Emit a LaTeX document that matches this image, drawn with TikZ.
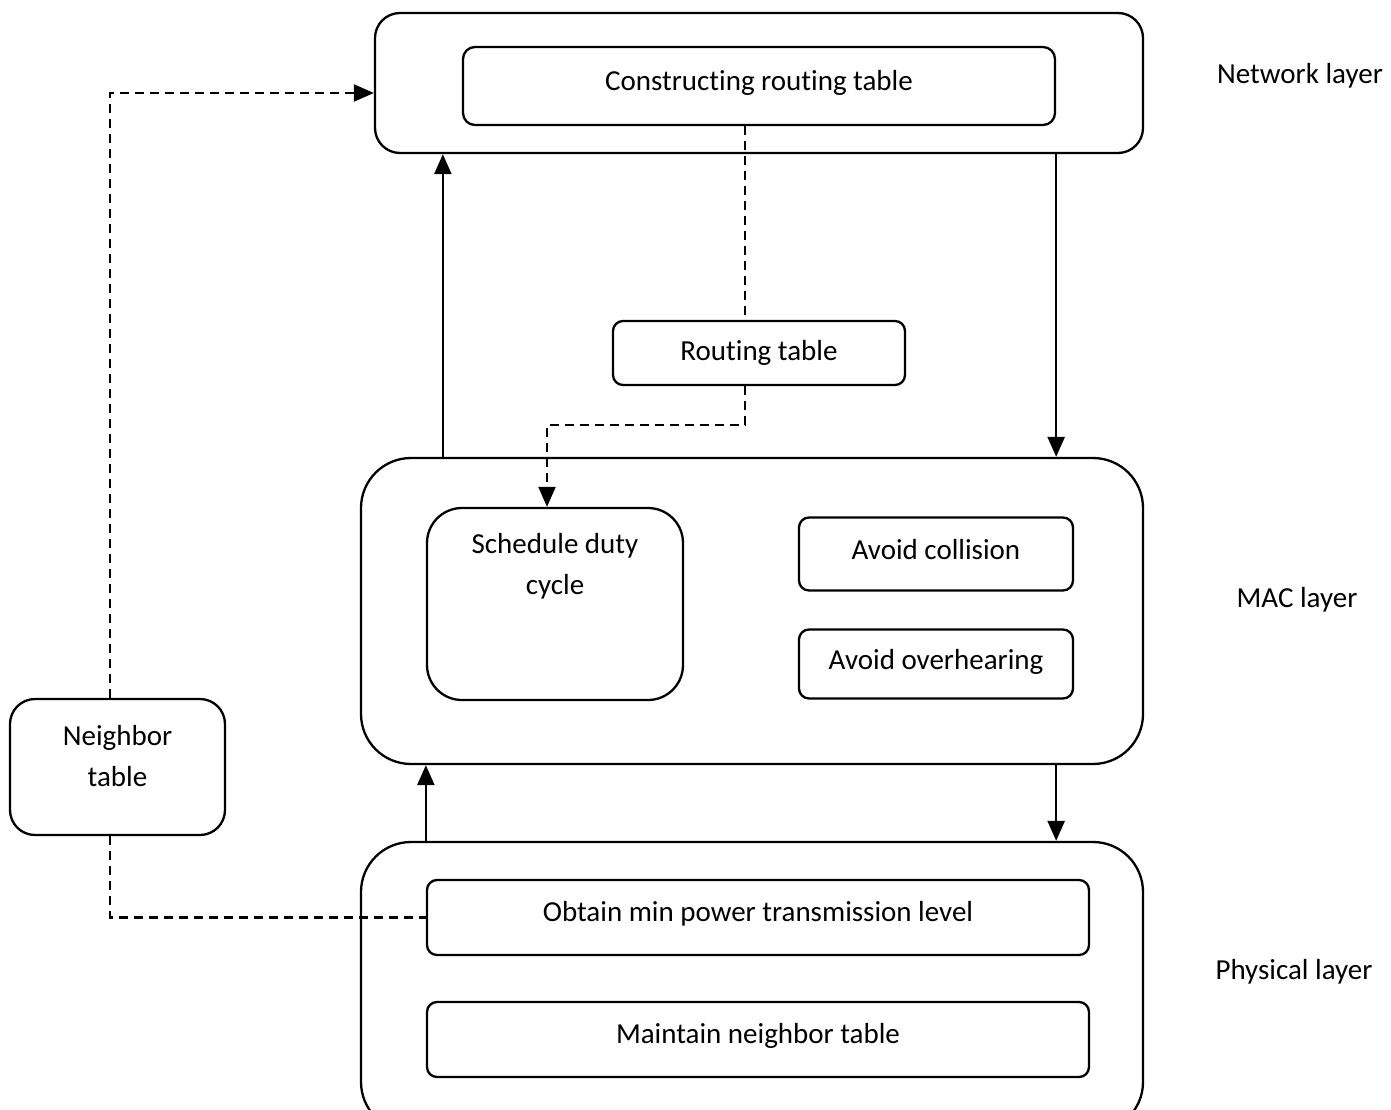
\documentclass[tikz,border=0pt]{standalone}
\usepackage{fontspec}
\setmainfont[Ligatures=NoCommon]{Carlito}
\usetikzlibrary{arrows.meta}
\begin{document}
\begin{tikzpicture}[x=1pt,y=-1pt,
  font=\fontsize{29}{41}\selectfont,
  box/.style={draw, line width=2.3pt, rounded corners=#1, inner sep=0pt, align=center},
  box/.default=10pt,
  lbl/.style={inner sep=0pt, align=center},
  flow/.style={line width=2.5pt, -{Triangle[length=20pt,width=17pt]}},
  dashflow/.style={line width=2.2pt, dash pattern=on 9pt off 6pt, -{Triangle[length=20pt,width=17pt]}},
  dashlink/.style={line width=2.2pt, dash pattern=on 9pt off 6pt}]
\clip (0,0) rectangle (1391,1110);
\useasboundingbox (0,0) rectangle (1391,1110);

% Network layer
\node[box=25pt, minimum width=768pt, minimum height=140pt] (net) at (759,83) {};
\node[box=12pt, minimum width=592pt, minimum height=78pt, text depth=12pt] (crt) at (759,86) {Constructing routing table};
\node[lbl] (netl) at (1300,76) {Network layer};

% Routing table
\node[box=10pt, minimum width=292pt, minimum height=64pt] (rt) at (759,353) {Routing table};

% MAC layer
\node[box=50pt, minimum width=782pt, minimum height=306pt] (mac) at (752,611) {};
\node[box=35pt, minimum width=256pt, minimum height=192pt] (sched) at (555,604) {};
\node[lbl] (schedt) at (555,566) {Schedule duty\\cycle};
\node[box=10pt, minimum width=274pt, minimum height=73pt, text depth=10pt] (col) at (936,554) {Avoid collision};
\node[box=10pt, minimum width=274pt, minimum height=69pt, text depth=10pt] (ovh) at (936,664) {Avoid overhearing};
\node[lbl] (macl) at (1297,600) {MAC layer};

% Neighbor table
\node[box=25pt, minimum width=215pt, minimum height=136pt] (nt) at (117.5,767) {};
\node[lbl] (ntt) at (117.5,756) {Neighbor\\table};

% Physical layer
\node[box=50pt, minimum width=782pt, minimum height=290pt] (phy) at (752,987) {};
\node[box=10pt, minimum width=662pt, minimum height=75pt, text depth=12pt] (obt) at (758,917.5) {Obtain min power transmission level};
\node[box=10pt, minimum width=662pt, minimum height=75pt, text depth=12pt] (mnt) at (758,1039.5) {Maintain neighbor table};
\node[lbl] (phyl) at (1294,972) {Physical layer};

% Solid flows between layers
\coordinate (a1) at ([xshift=83pt]mac.north west);
\coordinate (a2) at ([xshift=-88pt]net.south east);
\coordinate (a3) at ([xshift=66pt]phy.north west);
\coordinate (a4) at ([xshift=-88pt]mac.south east);
\draw[flow] (a1) -- (a1 |- net.south);
\draw[flow] (a2) -- (a2 |- mac.north);
\draw[flow] (a3) -- (a3 |- mac.south);
\draw[flow] (a4) -- (a4 |- phy.north);

% Dashed routing-table links
\coordinate (d1) at ([xshift=-14pt]crt.south);
\draw[dashlink] (d1) -- (d1 |- rt.north);
\coordinate (d2) at ([xshift=-14pt]rt.south);
\coordinate (d3) at (547,425);
\draw[dashflow] (d2) |- (d3) -- (d3 |- sched.north);

% Dashed neighbor-table links
\coordinate (n1) at ([xshift=-7.5pt]nt.north);
\coordinate (n2) at ([yshift=-10pt]net.west);
\draw[dashflow] (n1) |- (n2);
\coordinate (n3) at ([xshift=-7.5pt]nt.south);
\draw[dashlink] (n3) |- (obt.west);
\end{tikzpicture}
\end{document}
